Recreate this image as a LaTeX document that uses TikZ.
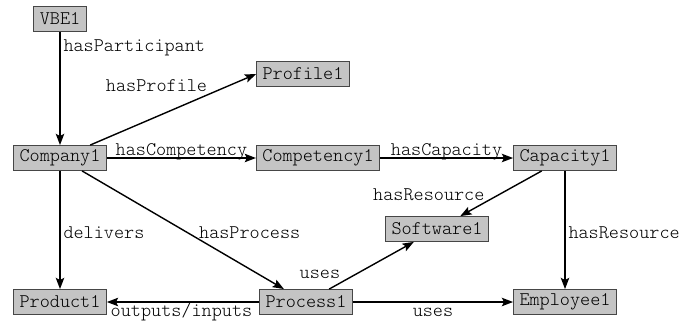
\documentclass[tikz,border=0pt]{standalone}
\usepackage{fontspec}
\newfontfamily\relfont{Latin Modern Mono Light}
\usetikzlibrary{arrows.meta}

\definecolor{boxgray}{RGB}{196,196,196}
\definecolor{boxline}{RGB}{70,70,70}

\tikzset{
  ent/.style={draw=boxline, line width=0.6pt, fill=boxgray,
    font=\relfont\fontsize{13.7}{16}\selectfont,
    minimum height=0.625cm, inner xsep=0.15cm, inner ysep=0pt},
  rel/.style={font=\relfont\fontsize{13.7}{16}\selectfont, inner sep=1pt},
  arr/.style={-{Stealth[length=8pt,width=6pt,inset=1.5pt]}, line width=1pt},
}

\begin{document}
\begin{tikzpicture}
  \useasboundingbox (0,0) rectangle (17.475,-8.05);

  % entities
  \node[ent] (vbe) at (1.5,-0.475) {VBE1};
  \node[ent] (profile) at (7.575,-1.85) {Profile1};
  \node[ent] (company) at (1.5,-3.95) {Company1};
  \node[ent] (competency) at (7.95,-3.95) {Competency1};
  \node[ent] (capacity) at (14.125,-3.95) {Capacity1};
  \node[ent] (software) at (10.925,-5.725) {Software1};
  \node[ent] (product) at (1.5,-7.55) {Product1};
  \node[ent] (process) at (7.65,-7.55) {Process1};
  \node[ent] (employee) at (14.125,-7.55) {Employee1};

  % relations
  \draw[arr] (vbe) -- node[rel, pos=0.14, right=1pt] {hasParticipant} (company);
  \draw[arr] (company) -- node[rel, pos=0.4, yshift=0.775cm] {hasProfile} (profile.west);
  \draw[arr] (company) -- node[rel, pos=0.5, anchor=base, yshift=2pt] {hasCompetency} (competency);
  \draw[arr] (competency) -- node[rel, pos=0.5, anchor=base, yshift=2pt] {hasCapacity} (capacity);
  \draw[arr] (capacity) -- node[rel, pos=0.53, left=0.3cm] {hasResource} (software);
  \draw[arr] (capacity) -- node[rel, pos=0.52, right=1pt] {hasResource} (employee);
  \draw[arr] (company) -- node[rel, pos=0.52, right=1pt] {delivers} (product);
  \draw[arr] (company) -- node[rel, pos=0.52, right=0.25cm] {hasProcess} (process);
  \draw[arr, {Stealth[length=8pt,width=6pt,inset=1.5pt]}-] (product) -- node[rel, pos=0.49, anchor=base, yshift=-10.6pt] {outputs/inputs} (process);
  \draw[arr] (process) -- node[rel, pos=0.31, left=0.33cm] {uses} (software);
  \draw[arr] (process) -- node[rel, pos=0.5, anchor=base, yshift=-10.6pt] {uses} (employee);
\end{tikzpicture}
\end{document}
